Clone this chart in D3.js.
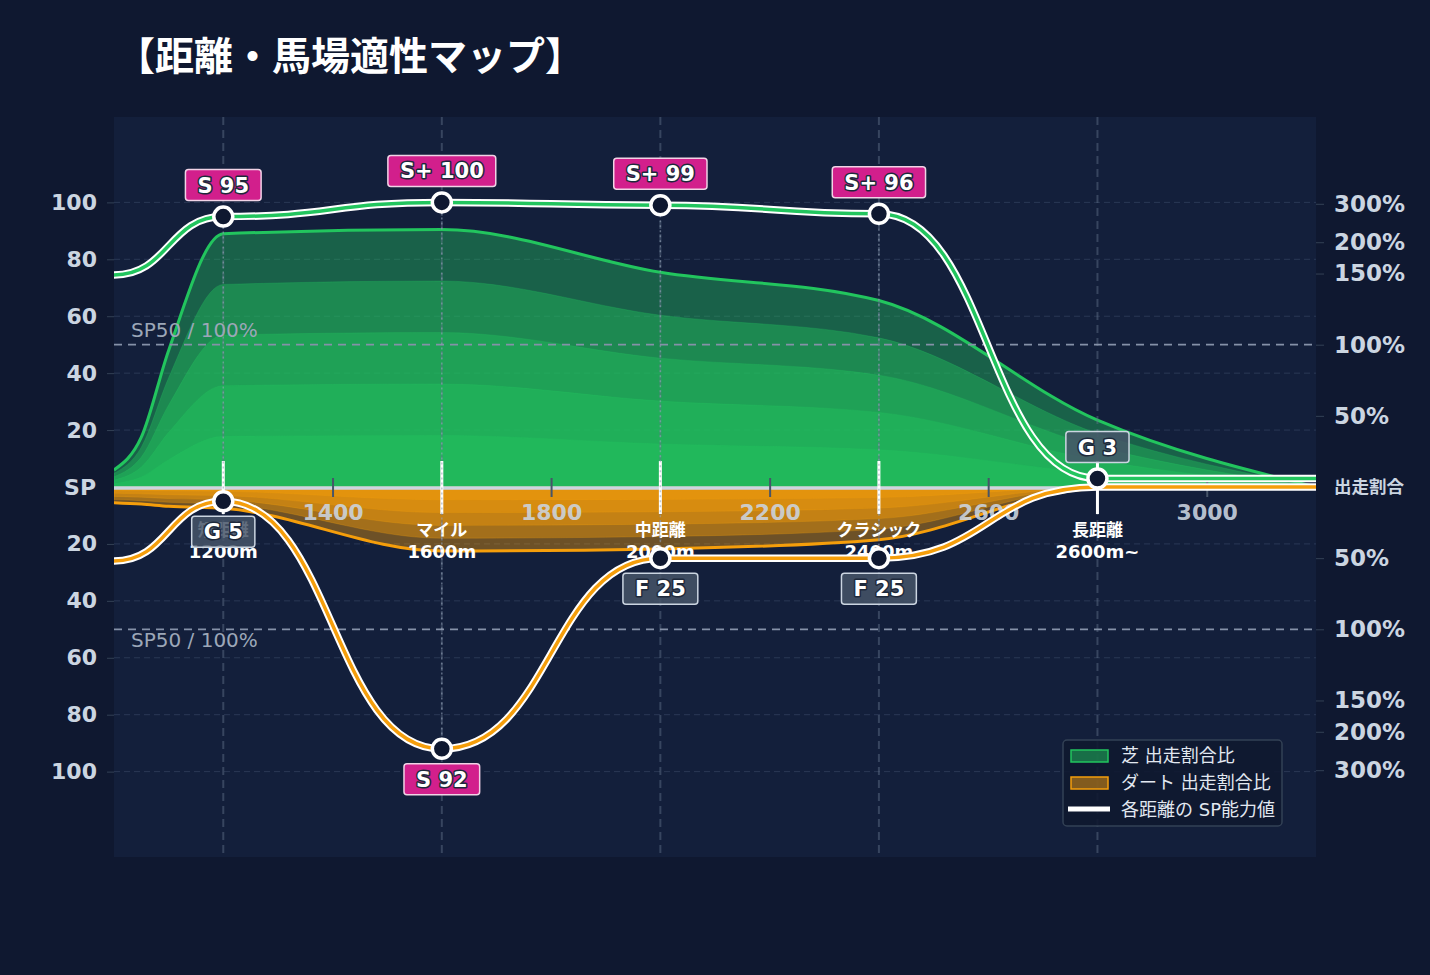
<!DOCTYPE html>
<html>
<head>
<meta charset="utf-8">
<script src="https://d3js.org/d3.v7.min.js"></script>
<style>
  body { margin: 0; background: #0f1830; }
  svg text { font-family: "DejaVu Sans", "Noto Sans CJK JP", sans-serif; }
</style>
</head>
<body>
<svg id="chart" width="1430" height="975"></svg>
<script>
// ---- data ----
const distances = [1000, 1200, 1600, 2000, 2400, 2800, 3200];
const turfSP    = [74.5, 95, 100, 99, 96, 3, 3];
const dirtSP    = [26, 5, 92, 25, 25, 0, 0];

const shareDist = [1000, 1050, 1100, 1200, 1600, 2000, 2400, 2800, 3200];
const turfRatio = [12, 35, 96, 222, 233, 152, 131, 47, 0];   // % share of starts
const dirtRatio = [11, 12, 13.5, 15, 45, 43.5, 37, 1, 0];

const catDist  = [1200, 1600, 2000, 2400, 2800];
const catNames = ["短距離", "マイル", "中距離", "クラシック", "長距離"];
const catSubs  = ["1200m", "1600m", "2000m", "2400m", "2600m~"];
const turfRank = ["S", "S+", "S+", "S+", "G"];
const dirtRank = ["G", "S", "F", "F", null];

const xTicks   = [1400, 1800, 2200, 2600, 3000];
const spTicks  = [20, 40, 60, 80, 100];
const pctTicks = [50, 100, 150, 200, 300];

// ---- layout ----
const W = 1430, H = 975;
const pL = 114, pR = 1316, pT = 117, pB = 857, base = 487;
const green = "#22c55e", orange = "#f59e0b";

const svg = d3.select("#chart");

const x = d3.scaleLinear().domain([1000, 3200]).range([pL, pR]);
const yUp = d3.scaleLinear().domain([0, 130]).range([base, pT]);
const yDown = d3.scaleLinear().domain([0, 130]).range([base, pB]);
// share (%) -> SP units, compressed above 150%
const pctToSP = d3.scaleLinear().domain([0, 150, 200, 300]).range([0, 75, 86, 99.5]);
const yPctUp = d3.scaleLinear().domain(pctToSP.domain()).range(pctToSP.range().map(yUp));
const yPctDown = d3.scaleLinear().domain(pctToSP.domain()).range(pctToSP.range().map(yDown));

svg.append("rect").attr("width", W).attr("height", H).attr("fill", "#0f1830");

svg.append("text")
  .attr("x", 116).attr("y", 70)
  .attr("fill", "#fff")
  .style("font-family", "'Noto Sans CJK JP', sans-serif")
  .style("font-size", "39px").style("font-weight", "bold")
  .text("【距離・馬場適性マップ】");

svg.append("defs").append("clipPath").attr("id", "clip")
  .append("rect").attr("x", pL).attr("y", pT)
  .attr("width", pR - pL).attr("height", pB - pT);

svg.append("rect")
  .attr("x", pL).attr("y", pT)
  .attr("width", pR - pL).attr("height", pB - pT)
  .attr("fill", "#131f3b");

// horizontal grid
const grid = svg.append("g");
spTicks.forEach(v => {
  [yUp(v), yDown(v)].forEach(yy => {
    grid.append("line")
      .attr("x1", pL).attr("x2", pR).attr("y1", yy).attr("y2", yy)
      .attr("stroke", "#2a3855").attr("stroke-width", 1).attr("stroke-dasharray", "6,4");
  });
});

// ---- stacked share areas ----
const areas = svg.append("g").attr("clip-path", "url(#clip)");
const turfData = shareDist.map((d, i) => ({ d: d, r: turfRatio[i] }));
const dirtData = shareDist.map((d, i) => ({ d: d, r: dirtRatio[i] }));
const curve = d3.curveMonotoneX;

for (let k = 5; k >= 1; k--) {
  areas.append("path").datum(turfData)
    .attr("fill", green).attr("fill-opacity", 0.4)
    .attr("stroke", green).attr("stroke-opacity", 0.25).attr("stroke-width", 1)
    .attr("d", d3.area().curve(curve)
      .x(p => x(p.d)).y0(base).y1(p => base - (base - yPctUp(p.r)) * k / 5));
  areas.append("path").datum(dirtData)
    .attr("fill", orange).attr("fill-opacity", 0.4)
    .attr("stroke", orange).attr("stroke-opacity", 0.25).attr("stroke-width", 1)
    .attr("d", d3.area().curve(curve)
      .x(p => x(p.d)).y0(base).y1(p => base + (yPctDown(p.r) - base) * k / 5));
}
areas.append("path").datum(turfData)
  .attr("fill", "none").attr("stroke", green).attr("stroke-width", 3)
  .attr("d", d3.line().curve(curve).x(p => x(p.d)).y(p => yPctUp(p.r)));
areas.append("path").datum(dirtData)
  .attr("fill", "none").attr("stroke", orange).attr("stroke-width", 3)
  .attr("d", d3.line().curve(curve).x(p => x(p.d)).y(p => yPctDown(p.r)));

// vertical grid at category distances
catDist.forEach(d => {
  svg.append("line")
    .attr("x1", x(d)).attr("x2", x(d)).attr("y1", pT).attr("y2", pB)
    .attr("stroke", "#64748b").attr("stroke-opacity", 0.45)
    .attr("stroke-width", 2).attr("stroke-dasharray", "8,5");
});

// SP50 reference lines
[[yUp(50), -8], [yDown(50), 18]].forEach(([yy, off]) => {
  svg.append("line")
    .attr("x1", pL).attr("x2", pR).attr("y1", yy).attr("y2", yy)
    .attr("stroke", "#8591a8").attr("stroke-width", 1.8).attr("stroke-dasharray", "8,6");
  svg.append("text")
    .attr("x", 131).attr("y", yy + off)
    .attr("fill", "#9ca7b8").style("font-size", "20px")
    .text("SP50 / 100%");
});

// baseline
svg.append("line")
  .attr("x1", pL).attr("x2", pR).attr("y1", base + 1).attr("y2", base + 1)
  .attr("stroke", "#cbd5e1").attr("stroke-width", 3.5);

// left axis (SP)
const axL = svg.append("g").attr("transform", `translate(${pL},0)`);
axL.append("g").call(d3.axisLeft(yUp).tickValues(spTicks).tickSize(7).tickPadding(10));
axL.append("g").call(d3.axisLeft(yDown).tickValues(spTicks).tickSize(7).tickPadding(10));
axL.append("text").attr("x", -18).attr("y", base).attr("dy", "0.35em")
  .attr("text-anchor", "end").text("SP");
axL.selectAll(".domain").remove();
axL.selectAll("line").attr("stroke", "#334155");
axL.selectAll("text").attr("fill", "#cbd5e1")
  .style("font-size", "22px").style("font-weight", "bold");

// right axis (share %)
const axR = svg.append("g").attr("transform", `translate(${pR},0)`);
axR.append("g").call(d3.axisRight(yPctUp).tickValues(pctTicks).tickSize(8).tickPadding(10).tickFormat(d => d + "%"));
axR.append("g").call(d3.axisRight(yPctDown).tickValues(pctTicks).tickSize(8).tickPadding(10).tickFormat(d => d + "%"));
axR.selectAll(".domain").remove();
axR.selectAll("line").attr("stroke", "#334155");
axR.selectAll("text").attr("fill", "#cbd5e1")
  .style("font-size", "23px").style("font-weight", "bold");
axR.append("text").attr("x", 18).attr("y", base).attr("dy", "0.35em")
  .attr("fill", "#cbd5e1").style("font-size", "17.5px").style("font-weight", "bold")
  .text("出走割合");

// bottom distance axis on the baseline
const axB = svg.append("g").attr("transform", `translate(0,${base - 9})`)
  .call(d3.axisBottom(x).tickValues(xTicks).tickSize(19).tickPadding(0).tickFormat(d3.format("d")));
axB.select(".domain").remove();
axB.selectAll("line").attr("stroke", "#475569").attr("stroke-width", 2);
axB.selectAll("text").attr("y", 34).attr("dy", "0.35em")
  .attr("fill", "#cbd5e1").attr("fill-opacity", 0.9)
  .style("font-size", "22px").style("font-weight", "bold");

// category markers and labels
catDist.forEach((d, i) => {
  svg.append("line")
    .attr("x1", x(d)).attr("x2", x(d)).attr("y1", base - 26).attr("y2", base + 27)
    .attr("stroke", "#fff").attr("stroke-width", 3);
  svg.append("text").attr("x", x(d)).attr("y", 530).attr("dy", "0.35em")
    .attr("text-anchor", "middle").attr("fill", "#fff")
    .style("font-size", "17px").style("font-weight", "bold")
    .style("font-family", "'Noto Sans CJK JP', sans-serif")
    .text(catNames[i]);
  svg.append("text").attr("x", x(d)).attr("y", 552).attr("dy", "0.35em")
    .attr("text-anchor", "middle").attr("fill", "#fff")
    .style("font-size", "18px").style("font-weight", "bold")
    .text(catSubs[i]);
});

// dotted connectors between turf and dirt points
catDist.forEach(d => {
  const i = distances.indexOf(d);
  svg.append("line")
    .attr("x1", x(d)).attr("x2", x(d))
    .attr("y1", yUp(turfSP[i])).attr("y2", yDown(dirtSP[i]))
    .attr("stroke", "#94a3b8").attr("stroke-opacity", 0.6)
    .attr("stroke-width", 1.5).attr("stroke-dasharray", "2,3");
});

// SP lines
const lines = svg.append("g").attr("clip-path", "url(#clip)");
const lineUp = d3.line().curve(d3.curveBumpX).x((d, i) => x(distances[i])).y(v => yUp(v));
const lineDown = d3.line().curve(d3.curveBumpX).x((d, i) => x(distances[i])).y(v => yDown(v));
[[turfSP, lineUp, green], [dirtSP, lineDown, orange]].forEach(([vals, gen, col]) => {
  lines.append("path").datum(vals).attr("fill", "none")
    .attr("stroke", "#fff").attr("stroke-width", 7.5).attr("d", gen);
  lines.append("path").datum(vals).attr("fill", "none")
    .attr("stroke", col).attr("stroke-width", 3.5).attr("d", gen);
});

// points and rank labels
function rankLabel(cx, cy, rank, val, above) {
  const g = svg.append("g");
  const hi = rank.startsWith("S");
  const t = g.append("text").attr("x", cx).attr("text-anchor", "middle")
    .attr("dy", "0.36em")
    .attr("fill", "#fff").attr("stroke", "#1e293b").attr("stroke-width", 3)
    .attr("paint-order", "stroke").attr("stroke-linejoin", "round")
    .style("font-size", "21px").style("font-weight", "bold")
    .text(rank + " " + val);
  const w = t.node().getComputedTextLength() + 24, h = 31;
  const yTop = above ? cy - 16 - h : cy + 15;
  t.attr("y", yTop + h / 2);
  g.insert("rect", "text")
    .attr("x", cx - w / 2).attr("y", yTop).attr("width", w).attr("height", h)
    .attr("rx", 3)
    .attr("fill", hi ? "#d21f8c" : "#475569").attr("fill-opacity", hi ? 1 : 0.85)
    .attr("stroke", hi ? "#f1d3e6" : "#cbd5e1").attr("stroke-width", 1.5);
}

catDist.forEach((d, k) => {
  const i = distances.indexOf(d);
  const pts = [[yUp(turfSP[i]), turfRank[k], turfSP[i], true]];
  if (dirtRank[k]) pts.push([yDown(dirtSP[i]), dirtRank[k], dirtSP[i], false]);
  pts.forEach(([cy, rank, val, above]) => {
    svg.append("circle").attr("cx", x(d)).attr("cy", cy).attr("r", 9.5)
      .attr("fill", "#0f1830").attr("stroke", "#fff").attr("stroke-width", 3.5);
    rankLabel(x(d), cy, rank, val, above);
  });
});

// legend
const lg = svg.append("g").attr("transform", "translate(1063,740)");
lg.append("rect").attr("width", 219).attr("height", 86).attr("rx", 4)
  .attr("fill", "#0f1830").attr("fill-opacity", 0.9)
  .attr("stroke", "#334155").attr("stroke-width", 1.5);
const legendItems = ["芝 出走割合比", "ダート 出走割合比", "各距離の SP能力値"];
legendItems.forEach((label, i) => {
  const cy = 16 + i * 27;
  if (i < 2) {
    const c = i === 0 ? green : orange;
    lg.append("rect").attr("x", 8).attr("y", cy - 6).attr("width", 37).attr("height", 12)
      .attr("fill", c).attr("fill-opacity", 0.5).attr("stroke", c).attr("stroke-width", 1.5);
  } else {
    lg.append("line").attr("x1", 5).attr("x2", 47).attr("y1", cy - 1).attr("y2", cy - 1)
      .attr("stroke", "#fff").attr("stroke-width", 5);
  }
  lg.append("text").attr("x", 58).attr("y", cy).attr("dy", "0.35em")
    .attr("fill", "#e2e8f0").style("font-size", "18px")
    .text(label);
});
</script>
</body>
</html>
